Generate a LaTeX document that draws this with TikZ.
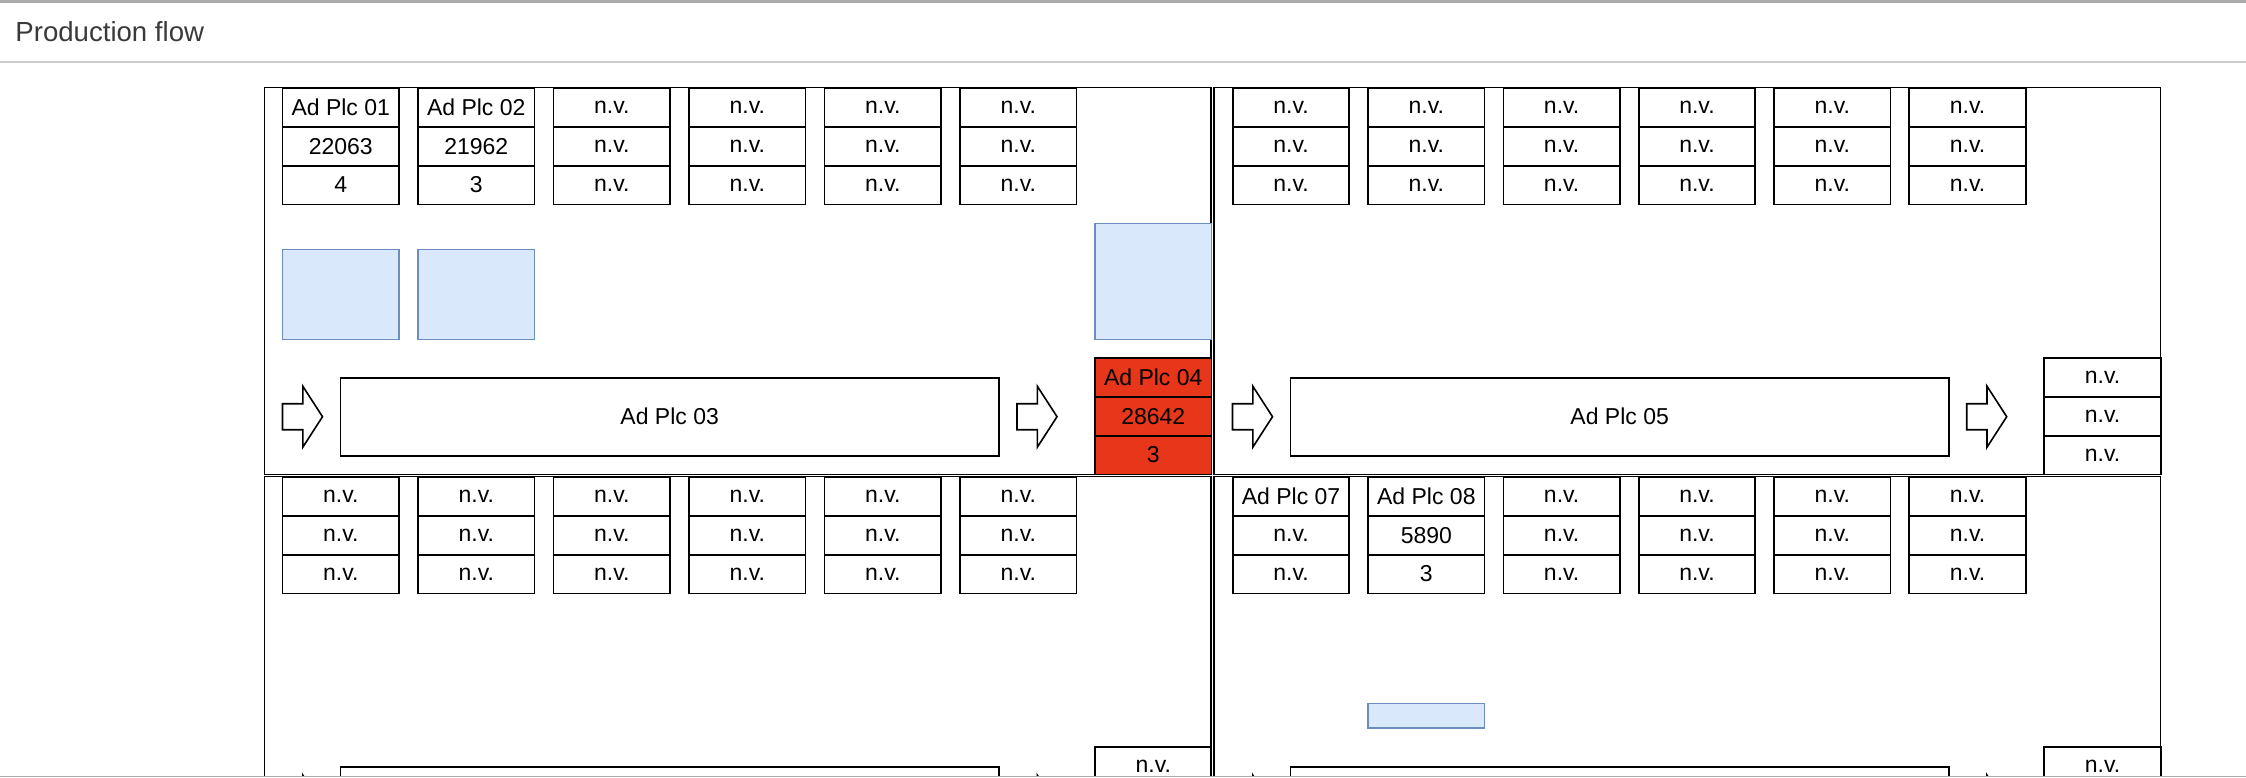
\documentclass[tikz,border=0pt]{standalone}
\usepackage{fontspec}
\setmainfont{Liberation Sans}
\definecolor{plcred}{HTML}{E8361A}
\definecolor{bluefill}{HTML}{DAE8FC}
\definecolor{blueline}{HTML}{6C8EBF}
\definecolor{titlegray}{HTML}{3A3A3A}
\definecolor{bargray}{HTML}{ABABAB}
\definecolor{sepgray}{HTML}{CCCCCC}
\newcommand\plccol[6]{%
  \node[cell] (#1a) at (#2,#3) {#4};
  \node[cell] (#1b) at (#2,#3+38.7) {#5};
  \node[cell] (#1c) at (#2,#3+77.4) {#6};}
\newcommand\blockarrow[2]{%
  \draw[arrowline] (#1,#2-13) -- (#1+20.3,#2-13) -- (#1+20.3,#2-30.5) -- (#1+40,#2)
    -- (#1+20.3,#2+30.5) -- (#1+20.3,#2+13) -- (#1,#2+13) -- cycle;}
\begin{document}
\begin{tikzpicture}[x=1pt,y=-1pt,
  cell/.style={draw=black, line width=1.7pt, minimum width=116.5pt, minimum height=38.7pt,
    inner sep=0pt, outer sep=0pt, anchor=north west, font=\fontsize{23}{27}\selectfont, text=black},
  redcell/.style={cell, fill=plcred},
  flowbox/.style={draw=black, line width=1.7pt, minimum width=658.3pt, minimum height=78pt,
    inner sep=0pt, outer sep=0pt, anchor=north west, font=\fontsize{23}{27}\selectfont},
  bluebox/.style={draw=blueline, fill=bluefill, line width=1.6pt},
  frame/.style={draw=black, line width=1.6pt},
  arrowline/.style={draw=black, fill=white, line width=1.6pt, line join=miter}]
\useasboundingbox (0,0) rectangle (2246,777);
\fill[white] (0,0) rectangle (2246,777);
% header
\fill[bargray] (0,0) rectangle (2246,3);
\draw[sepgray, line width=1.3pt] (0,62) -- (2246,62);
\node[anchor=base west, inner sep=0pt, font=\fontsize{27.6}{30}\selectfont, text=titlegray] (title) at (15.2,41.7) {Production flow};
\begin{scope}
\clip (0,63) rectangle (2246,776);
% frames
\draw[frame] (264.3,87.3) rectangle (1211.1,474.5);
\draw[frame] (1213.8,87.3) rectangle (2160.6,474.5);
\draw[frame] (264.3,476.4) rectangle (1211.1,900);
\draw[frame] (1213.8,476.4) rectangle (2160.6,900);
% ---------- top left ----------
\plccol{tl1}{282.5}{88.3}{Ad Plc 01}{22063}{4}
\plccol{tl2}{418}{88.3}{Ad Plc 02}{21962}{3}
\foreach \k/\x in {3/553.5,4/689,5/824.5,6/960}{\plccol{tl\k}{\x}{88.3}{n.v.}{n.v.}{n.v.}}
\draw[bluebox] (282.5,249.3) rectangle (399,339.3);
\draw[bluebox] (418,249.3) rectangle (534.5,339.3);
\draw[bluebox] (1095,223.3) rectangle (1211.4,339.3);
\blockarrow{282.5}{416.7}
\node[flowbox] (tlflow) at (340.5,377.7) {Ad Plc 03};
\blockarrow{1017}{416.7}
\node[redcell] (tlsa) at (1095,358.3) {Ad Plc 04};
\node[redcell] (tlsb) at (1095,397) {28642};
\node[redcell] (tlsc) at (1095,435.7) {3};
% ---------- top right ----------
\foreach \k/\x in {1/1232.8,2/1368.1,3/1503.4,4/1638.7,5/1774,6/1909.3}{\plccol{tr\k}{\x}{88.3}{n.v.}{n.v.}{n.v.}}
\blockarrow{1232.5}{416.7}
\node[flowbox] (trflow) at (1290.5,377.7) {Ad Plc 05};
\blockarrow{1966.7}{416.7}
\node[cell] (trsa) at (2044.3,358.3) {n.v.};
\node[cell] (trsb) at (2044.3,397) {n.v.};
\node[cell] (trsc) at (2044.3,435.7) {n.v.};
% ---------- bottom left ----------
\foreach \k/\x in {1/282.5,2/418,3/553.5,4/689,5/824.5,6/960}{\plccol{bl\k}{\x}{477.3}{n.v.}{n.v.}{n.v.}}
\blockarrow{282.5}{805.7}
\node[flowbox] (blflow) at (340.5,766.7) {};
\blockarrow{1017}{805.7}
\node[cell] (blsa) at (1095,747.3) {n.v.};
% ---------- bottom right ----------
\plccol{br1}{1232.8}{477.3}{Ad Plc 07}{n.v.}{n.v.}
\plccol{br2}{1368.1}{477.3}{Ad Plc 08}{5890}{3}
\foreach \k/\x in {3/1503.4,4/1638.7,5/1774,6/1909.3}{\plccol{br\k}{\x}{477.3}{n.v.}{n.v.}{n.v.}}
\draw[bluebox] (1368.1,703.3) rectangle (1484.5,727.7);
\blockarrow{1232.5}{805.7}
\node[flowbox] (brflow) at (1290.5,766.7) {};
\blockarrow{1966.7}{805.7}
\node[cell] (brsa) at (2044.3,747.3) {n.v.};
\end{scope}
\draw[bargray, line width=1.3pt] (0,776.2) -- (2246,776.2);
\end{tikzpicture}
\end{document}
